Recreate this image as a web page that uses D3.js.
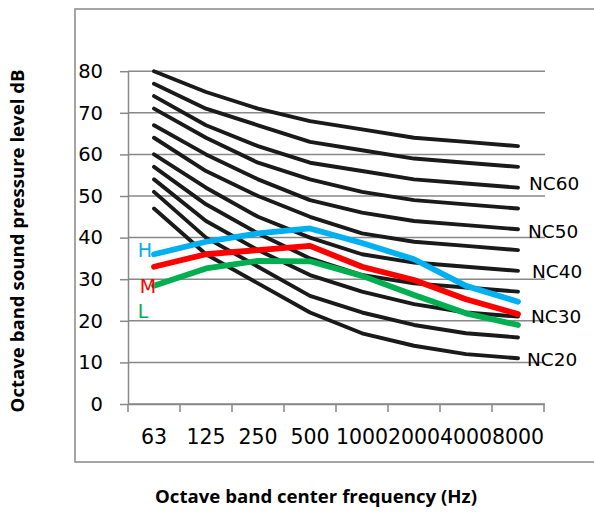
<!DOCTYPE html>
<html><head><meta charset="utf-8">
<script src="https://cdn.jsdelivr.net/npm/d3@7"></script>
<style>
html,body{margin:0;padding:0;background:#fff;}
svg{display:block;}
</style></head>
<body>
<svg id="chart" width="594" height="514"></svg>
<script>
const categories = ["63","125","250","500","1000","2000","4000","8000"];
const yTicks = [0,10,20,30,40,50,60,70,80];

// NC reference curves (dB at each octave band)
const nc65 = [80,75,71,68,66,64,63,62];
const nc60 = [77,71,67,63,61,59,58,57];
const nc55 = [74,67,62,58,56,54,53,52];
const nc50 = [71,64,58,54,51,49,48,47];
const nc45 = [67,60,54,49,46,44,43,42];
const nc40 = [64,56,50,45,41,39,38,37];
const nc35 = [60,52,45,40,36,34,33,32];
const nc30 = [57,48,41,35,31,29,28,27];
const nc25 = [54,44,37,31,27,24,22,21];
const nc20 = [51,40,33,26,22,19,17,16];
const nc15 = [47,36,29,22,17,14,12,11];
const ncCurves = [nc65,nc60,nc55,nc50,nc45,nc40,nc35,nc30,nc25,nc20,nc15];

// Measured spectra
const seriesH = [36,39,41,42.2,38.7,34.8,28.4,24.6];
const seriesM = [33,36,37,38,33,29.8,25.2,21.6];
const seriesL = [28.4,32.6,34.4,34.3,30.8,26.2,21.8,19];

// NC labels (text, dB level where placed)
const ncLabelText = ["NC60","NC50","NC40","NC30","NC20"];
const ncLabelLevel = [53,41.4,32,21,10.8];

// Series labels
const seriesLabelText = ["H","M","L"];
const seriesLabelLevel = [36.9,28.4,22.2];
const seriesColors = ["#00B0F0","#FF0000","#00B050"];

const svg = d3.select("#chart");
const gridColor = "#888888";

// outer frame
svg.append("rect").attr("x",75).attr("y",9).attr("width",560).attr("height",453)
  .attr("fill","none").attr("stroke",gridColor).attr("stroke-width",1.5);

const x = d3.scaleBand().domain(categories).range([128,544]).padding(0);
const y = d3.scaleLinear().domain([0,80]).range([404,71.2]);
const cx = c => x(c) + x.bandwidth()/2;

const tickFont = "'DejaVu Sans', sans-serif";

// gridlines + y axis
const yAxis = d3.axisLeft(y).tickValues(yTicks).tickSize(8).tickSizeOuter(0).tickFormat(d3.format("d"));
const gy = svg.append("g").attr("transform","translate(128,0)").call(yAxis);
gy.select(".domain").attr("stroke",gridColor).attr("stroke-width",1.5);
gy.selectAll(".tick line").attr("stroke",gridColor).attr("stroke-width",1.5);
gy.selectAll(".tick text").attr("x",-25).attr("font-family",tickFont).attr("font-size",19.5).attr("fill","#000");
const grid = svg.append("g");
grid.selectAll("line").data(yTicks).join("line")
  .attr("x1",128).attr("x2",545).attr("y1",d=>y(d)).attr("y2",d=>y(d))
  .attr("stroke",gridColor).attr("stroke-width",1.5);

// x axis
const xAxis = d3.axisBottom(x).tickSize(0).tickSizeOuter(0);
const gx = svg.append("g").attr("transform","translate(0,404)").call(xAxis);
gx.select(".domain").attr("stroke",gridColor).attr("stroke-width",1.5);
gx.selectAll(".tick text").attr("y",25).attr("dy","0.71em").attr("font-family",tickFont).attr("font-size",20.5).attr("fill","#000");
// category boundary tick marks
const bounds = categories.map(c=>x(c)).concat([x(categories[categories.length-1])+x.bandwidth()]);
svg.append("g").selectAll("line").data(bounds).join("line")
  .attr("x1",d=>d).attr("x2",d=>d).attr("y1",404).attr("y2",412)
  .attr("stroke",gridColor).attr("stroke-width",1.5);

const line = d3.line().x((d,i)=>cx(categories[i])).y(d=>y(d));

// NC curves
svg.append("g").selectAll("path").data(ncCurves).join("path")
  .attr("d",line).attr("fill","none").attr("stroke","#1a1a1a")
  .attr("stroke-width",3.9).attr("stroke-linecap","round").attr("stroke-linejoin","round");

// measured series
const seriesData = [seriesH,seriesM,seriesL];
svg.append("g").selectAll("path").data(seriesData).join("path")
  .attr("d",line).attr("fill","none").attr("stroke",(d,i)=>seriesColors[i])
  .attr("stroke-width",5.8).attr("stroke-linecap","round").attr("stroke-linejoin","round");

// NC labels
svg.append("g").selectAll("text").data(ncLabelText).join("text")
  .attr("x",(d,i)=>[529,528,532,531,527][i])
  .attr("y",(d,i)=>y(ncLabelLevel[i])).attr("dy","0.36em")
  .attr("font-family",tickFont).attr("font-size",18.5).attr("fill","#000").text(d=>d);

// series labels
svg.append("g").selectAll("text").data(seriesLabelText).join("text")
  .attr("x",(d,i)=>[145,148,143][i]).attr("text-anchor","middle")
  .attr("y",(d,i)=>y(seriesLabelLevel[i])).attr("dy","0.36em")
  .attr("font-family",tickFont).attr("font-size",19).attr("fill",(d,i)=>seriesColors[i]).text(d=>d);

// titles
const titleFont = "'Open Sans', sans-serif";
function fitText(sel, target){
  let fs = 15; sel.attr("font-size",fs);
  const w = sel.node().getComputedTextLength();
  sel.attr("font-size", fs*target/w);
}
const xt = svg.append("text").attr("x",316).attr("y",503).attr("text-anchor","middle")
  .attr("font-family",titleFont).attr("font-weight","bold").attr("fill","#000")
  .text("Octave band center frequency (Hz)");
fitText(xt,322);
const yt = svg.append("text").attr("transform","translate(24,241) rotate(-90)").attr("text-anchor","middle")
  .attr("font-family",titleFont).attr("font-weight","bold").attr("fill","#000")
  .text("Octave band sound pressure level dB");
fitText(yt,343);
</script>
</body></html>
